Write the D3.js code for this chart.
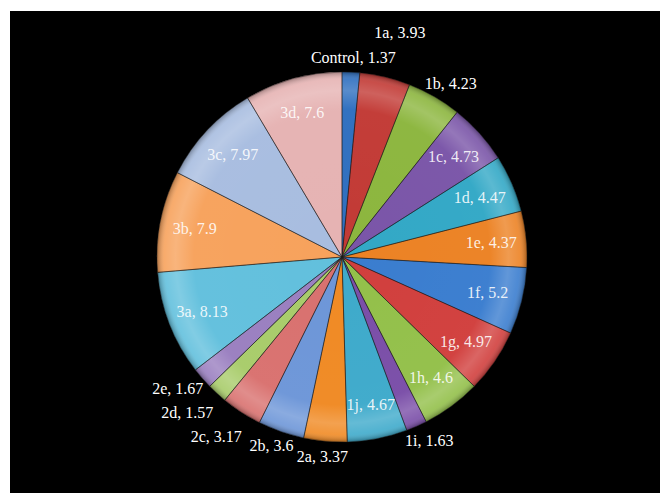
<!DOCTYPE html>
<html>
<head>
<meta charset="utf-8">
<script src="https://cdn.jsdelivr.net/npm/d3@7/dist/d3.min.js"></script>
<style>
  body { margin: 0; background: #fff; }
  text { font-family: "Liberation Serif", "Times New Roman", serif; font-size: 16px; }
</style>
</head>
<body>
<svg id="chart" width="660" height="493"></svg>
<script>
'use strict';

var categories = ['Control', '1a', '1b', '1c', '1d', '1e', '1f', '1g', '1h', '1i', '1j',
  '2a', '2b', '2c', '2d', '2e', '3a', '3b', '3c', '3d'];
var values = [1.37, 3.93, 4.23, 4.73, 4.47, 4.37, 5.2, 4.97, 4.6, 1.63, 4.67,
  3.37, 3.6, 3.17, 1.57, 1.67, 8.13, 7.9, 7.97, 7.6];
var colors = ['#2f6fbf', '#c23a35', '#8cb63e', '#7a55a8', '#32a8c6', '#ec8224',
  '#3a7dcf', '#d13f3d', '#93c04a', '#7a4ea8', '#3eaacb', '#f08a24',
  '#6d96d8', '#d9716f', '#a8cc6a', '#9a7fc0', '#62c0dd', '#f7a25c', '#a8bde0', '#e6b3b3'];

(function () {
  var svg = d3.select('#chart');
  var cx = 342, cy = 257, R = 185, labelR = 150;

  var data = categories.map(function (c, i) {
    return { name: c, value: values[i], color: colors[i] };
  });

  svg.append('rect').attr('x', 10).attr('y', 11).attr('width', 650).attr('height', 482).attr('fill', '#000');

  var defs = svg.append('defs');
  var grad = defs.append('radialGradient').attr('id', 'bevel')
    .attr('gradientUnits', 'userSpaceOnUse').attr('cx', 0).attr('cy', 0).attr('r', R);
  [[0, '#fff', 0], [0.8, '#fff', 0.02], [0.9, '#fff', 0.2], [0.96, '#fff', 0.1], [1, '#000', 0.3]]
    .forEach(function (s) {
      grad.append('stop').attr('offset', s[0]).attr('stop-color', s[1]).attr('stop-opacity', s[2]);
    });

  var g = svg.append('g').attr('transform', 'translate(' + cx + ',' + cy + ')');

  var pie = d3.pie().sort(null).value(function (d) { return d.value; });
  var arc = d3.arc().innerRadius(0).outerRadius(R);
  var arcs = pie(data);

  g.selectAll('path.slice').data(arcs).enter().append('path')
    .attr('class', 'slice').attr('d', arc).attr('fill', function (d) { return d.data.color; });

  g.append('circle').attr('r', R).attr('fill', 'url(#bevel)');

  g.selectAll('path.edge').data(arcs).enter().append('path')
    .attr('class', 'edge').attr('d', arc).attr('fill', 'none')
    .attr('stroke', 'rgba(30,30,30,0.55)').attr('stroke-width', 0.8);

  // labels: inside when the text box fits in the wedge, otherwise outside
  var tol = Math.PI / 180;
  function angleOf(x, y) {
    var a = Math.atan2(x, -y);
    return a < 0 ? a + 2 * Math.PI : a;
  }

  var outside = [];
  arcs.forEach(function (d) {
    var mid = (d.startAngle + d.endAngle) / 2;
    var ux = Math.sin(mid), uy = -Math.cos(mid);
    var t = g.append('text').attr('text-anchor', 'middle').attr('dy', '0.35em')
      .text(d.data.name + ', ' + d.data.value);
    var w = t.node().getComputedTextLength(), h = 16;

    var x = labelR * ux, y = labelR * uy;
    var fits = [[-1, -1], [1, -1], [-1, 1], [1, 1]].every(function (c) {
      var px = x + c[0] * w / 2, py = y + c[1] * h / 2;
      var a = angleOf(px, py);
      if (d.startAngle < 0.1 && a > Math.PI) a -= 2 * Math.PI;
      return a >= d.startAngle - tol && a <= d.endAngle + tol && Math.hypot(px, py) < R;
    });

    if (fits) {
      t.attr('x', x).attr('y', y).attr('fill', '#fff').attr('fill-opacity', 0.88);
    } else {
      outside.push({ t: t, mid: mid, ux: ux, uy: uy, w: w, h: h });
    }
  });

  // place outside labels from the top downwards on each side, pushing out on collision
  var right = outside.filter(function (o) { return o.mid <= Math.PI; });
  var left = outside.filter(function (o) { return o.mid > Math.PI; }).reverse();
  var placed = [];
  function overlaps(b) {
    return placed.some(function (p) {
      return b.x0 < p.x1 + 2 && b.x1 > p.x0 - 2 && b.y0 < p.y1 + 8 && b.y1 > p.y0 - 8;
    });
  }
  right.concat(left).forEach(function (o) {
    var r = R + 7, x, y, b;
    do {
      x = r * o.ux + o.ux * o.w / 2;
      y = r * o.uy + o.uy * o.h / 2;
      b = { x0: x - o.w / 2, x1: x + o.w / 2, y0: y - o.h / 2, y1: y + o.h / 2 };
      r += 1;
    } while (overlaps(b) && r < R + 120);
    placed.push(b);
    o.t.attr('x', x).attr('y', y).attr('fill', '#fff');
  });
})();
</script>
</body>
</html>
